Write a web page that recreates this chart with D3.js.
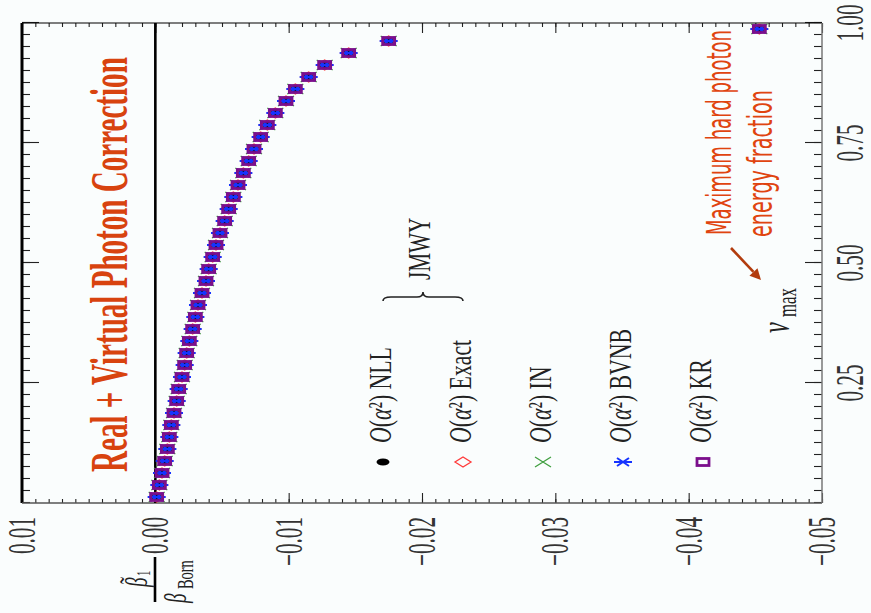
<!DOCTYPE html>
<html>
<head>
<meta charset="utf-8">
<script src="https://cdn.jsdelivr.net/npm/d3@7"></script>
<style>
  body { margin: 0; background: #fafdfd; }
  svg { display: block; }
  text { font-family: 'Liberation Serif', 'DejaVu Serif', serif; }
  text.hand { font-family: 'DejaVu Sans', sans-serif; }
</style>
</head>
<body>
<svg id="chart" width="871" height="613"></svg>
<script>
// hard photon energy fraction (bin centres)
const vMax = [
  0.0125, 0.0375, 0.0625, 0.0875, 0.1125, 0.1375, 0.1625, 0.1875, 0.2125, 0.2375,
  0.2625, 0.2875, 0.3125, 0.3375, 0.3625, 0.3875, 0.4125, 0.4375, 0.4625, 0.4875,
  0.5125, 0.5375, 0.5625, 0.5875, 0.6125, 0.6375, 0.6625, 0.6875, 0.7125, 0.7375,
  0.7625, 0.7875, 0.8125, 0.8375, 0.8625, 0.8875, 0.9125, 0.9375, 0.9625, 0.9875
];
// beta1 / beta_Born, the five calculations lie on top of each other
const correction = [
  -0.0001, -0.0003, -0.0005, -0.0007, -0.0009, -0.00105, -0.0012, -0.0014, -0.0016, -0.00175,
  -0.0020, -0.0022, -0.00235, -0.00255, -0.0028, -0.0030, -0.0032, -0.0035, -0.0038, -0.0040,
  -0.0043, -0.00455, -0.00485, -0.0052, -0.0055, -0.00585, -0.0062, -0.0066, -0.0070, -0.0074,
  -0.0079, -0.0084, -0.0090, -0.0098, -0.0105, -0.0115, -0.0127, -0.0145, -0.0175, -0.0453
];
const seriesNames = ["NLL", "Exact", "IN", "BVNB", "KR"];
const yTickValues = [0.01, 0.00, -0.01, -0.02, -0.03, -0.04, -0.05];
const yTickLabels = ["0.01", "0.00", "\u22120.01", "\u22120.02", "\u22120.03", "\u22120.04", "\u22120.05"];
const xTickValues = [0.25, 0.50, 0.75, 1.00];
const xTickLabels = ["0.25", "0.50", "0.75", "1.00"];

const W = 613; // unrotated canvas is 613 wide, drawn turned a quarter left
const svg = d3.select("#chart");
const g = svg.append("g").attr("transform", `translate(0,${W}) rotate(-90)`);

const x = d3.scaleLinear().domain([0, 1]).range([110, 590]);
const y = d3.scaleLinear().domain([0.01, -0.05]).range([22, 822]);

const orange = "#d8430f";

// squeezed text helper (the original figure is compressed along its width)
function label(parent, u, v, opts) {
  const t = parent.append("text")
    .attr("font-size", opts.size)
    .attr("fill", opts.fill || "#222")
    .attr("text-anchor", opts.anchor || "start");
  if (opts.cls) t.attr("class", opts.cls);
  if (opts.italic) t.attr("font-style", "italic");
  if (opts.bold) t.attr("font-weight", "bold");
  if (opts.text != null) t.text(opts.text);
  let sx = opts.sx || 1;
  if (opts.len) sx = opts.len / t.node().getComputedTextLength();
  t.attr("transform", `translate(${u},${v}) scale(${sx},1)`);
  return t;
}

// ticks
const yMinor = d3.range(-50, 11).map(i => i / 1000);
const xMinor = d3.range(0, 41).map(i => i * 0.025);
function ticks(axis, tr, vals, size) {
  g.append("g").attr("transform", tr)
    .call(axis.tickValues(vals).tickSize(size).tickFormat(""))
    .call(s => s.select(".domain").remove())
    .call(s => s.selectAll("line").attr("stroke", "#222").attr("stroke-width", 1.1));
}
ticks(d3.axisLeft(y), `translate(${x(0)},0)`, yMinor, -4);
ticks(d3.axisLeft(y), `translate(${x(0)},0)`, yTickValues, -10);
ticks(d3.axisRight(y), `translate(${x(1)},0)`, yMinor, -4);
ticks(d3.axisRight(y), `translate(${x(1)},0)`, yTickValues, -10);
ticks(d3.axisTop(x), `translate(0,${y(0.01)})`, xMinor, -8);
ticks(d3.axisTop(x), `translate(0,${y(0.01)})`, xTickValues, -17);
ticks(d3.axisBottom(x), `translate(0,${y(-0.05)})`, xMinor, -8);
ticks(d3.axisBottom(x), `translate(0,${y(-0.05)})`, xTickValues, -17);

// frame
const frame = g.append("g");
frame.append("line").attr("x1", x(0)).attr("x2", x(1)).attr("y1", y(0.01)).attr("y2", y(0.01))
  .attr("stroke", "#000").attr("stroke-width", 3);
frame.append("line").attr("x1", x(1)).attr("x2", x(1)).attr("y1", y(0.01)).attr("y2", y(-0.05))
  .attr("stroke", "#000").attr("stroke-width", 1.2);
frame.append("line").attr("x1", x(0)).attr("x2", x(0)).attr("y1", y(0.01)).attr("y2", y(-0.05))
  .attr("stroke", "#555").attr("stroke-width", 1.5);
frame.append("line").attr("x1", x(0)).attr("x2", x(1)).attr("y1", y(-0.05)).attr("y2", y(-0.05))
  .attr("stroke", "#777").attr("stroke-width", 1.5);

// zero line
g.append("line").attr("x1", x(0)).attr("x2", x(1)).attr("y1", y(0)).attr("y2", y(0))
  .attr("stroke", "#000").attr("stroke-width", 2.6);

// tick labels
yTickValues.forEach((val, i) => {
  label(g, 96, y(val) + 13, { text: yTickLabels[i], size: 40, sx: 0.53, anchor: "end", fill: "#333" });
});
xTickValues.forEach((val, i) => {
  label(g, x(val), 863, { text: xTickLabels[i], size: 40, sx: 0.53, anchor: "middle", fill: "#333" });
});

// marker shapes
function drawMarker(sel, name) {
  if (name === "NLL") {
    sel.append("ellipse").attr("rx", 3.5).attr("ry", 6.5).attr("fill", "#000");
  } else if (name === "Exact") {
    sel.append("path").attr("d", "M-5,0L0,-8L5,0L0,8Z")
      .attr("fill", "none").attr("stroke", "#ff3b3b").attr("stroke-width", 1.3);
  } else if (name === "IN") {
    sel.append("path").attr("d", "M-5,-8L5,8M-5,8L5,-8")
      .attr("fill", "none").attr("stroke", "#3f9f3f").attr("stroke-width", 1.3);
  } else if (name === "BVNB") {
    sel.append("path").attr("d", "M0,-9L0,9M-4,-6L4,6M-4,6L4,-6")
      .attr("fill", "none").attr("stroke", "#1533ff").attr("stroke-width", 2);
  } else {
    sel.append("rect").attr("x", -3.5).attr("y", -6).attr("width", 7).attr("height", 12)
      .attr("fill", "none").attr("stroke", "#7b0f8c").attr("stroke-width", 2.8);
  }
}

// points
const pts = vMax.map((v, i) => ({ v, r: correction[i] }));
seriesNames.forEach(name => {
  g.append("g").selectAll("g").data(pts).join("g")
    .attr("transform", d => `translate(${x(d.v)},${y(d.r)})`)
    .each(function () { drawMarker(d3.select(this), name); });
});

// legend
seriesNames.forEach((name, i) => {
  const row = 383 + 80 * i;
  drawMarker(g.append("g").attr("transform", `translate(151,${row})`), name);
  const t = label(g, 170, row + 8, { size: 32, sx: 0.68, fill: "#222" });
  t.append("tspan").attr("font-style", "italic").text("O");
  t.append("tspan").text("(");
  t.append("tspan").attr("font-style", "italic").text("\u03b1");
  t.append("tspan").text("\u00b2) " + name);
});

// JMWY brace
const bu = 316, bv0 = 383, bv1 = 463, bm = (bv0 + bv1) / 2;
g.append("path")
  .attr("d", `M${bu - 4},${bv0} Q${bu},${bv0} ${bu},${bv0 + 8} L${bu},${bm - 6} Q${bu},${bm} ${bu + 5},${bm}` +
             ` Q${bu},${bm} ${bu},${bm + 6} L${bu},${bv1 - 8} Q${bu},${bv1} ${bu - 4},${bv1}`)
  .attr("fill", "none").attr("stroke", "#222").attr("stroke-width", 1.6);
label(g, 333, 430, { text: "JMWY", size: 32, sx: 0.66, fill: "#222" });

// title
label(g, 141, 127, { text: "Real + Virtual Photon Correction", size: 52, len: 415, fill: orange, bold: true });

// note on the last bin
label(g, 378, 731, { text: "Maximum hard photon", size: 34, len: 205, fill: "#e0440f", cls: "hand" });
label(g, 376, 772, { text: "energy fraction", size: 34, len: 147, fill: "#e0440f", cls: "hand" });
const a0 = [365, 731], a1 = [333, 761];
const ang = Math.atan2(a1[1] - a0[1], a1[0] - a0[0]);
const hl = 11, hw = 5.5;
const back = [a1[0] - hl * Math.cos(ang), a1[1] - hl * Math.sin(ang)];
g.append("line").attr("x1", a0[0]).attr("y1", a0[1]).attr("x2", back[0]).attr("y2", back[1])
  .attr("stroke", "#b23c0e").attr("stroke-width", 2.6);
g.append("path")
  .attr("d", `M${a1[0]},${a1[1]}L${back[0] - hw * Math.sin(ang)},${back[1] + hw * Math.cos(ang)}` +
             `L${back[0] + hw * Math.sin(ang)},${back[1] - hw * Math.cos(ang)}Z`)
  .attr("fill", "#b23c0e");

// x axis title
label(g, 280, 789, { text: "v", size: 40, sx: 0.6, italic: true, fill: "#222" });
label(g, 296, 796, { text: "max", size: 28, sx: 0.6, fill: "#222" });

// y axis title: beta~1 over beta_Born
g.append("line").attr("x1", 11).attr("x2", 56).attr("y1", 155).attr("y2", 155)
  .attr("stroke", "#000").attr("stroke-width", 2.6);
label(g, 26, 147, { text: "\u03b2", size: 32, sx: 0.6, italic: true, fill: "#222" });
label(g, 29, 140, { text: "\u02dc", size: 30, sx: 0.7, fill: "#222" });
label(g, 37, 150, { text: "1", size: 18, sx: 0.6, fill: "#222" });
label(g, 10, 186, { text: "\u03b2", size: 32, sx: 0.6, italic: true, fill: "#222" });
label(g, 24, 193, { text: "Born", size: 24, sx: 0.6, fill: "#222" });
</script>
</body>
</html>
